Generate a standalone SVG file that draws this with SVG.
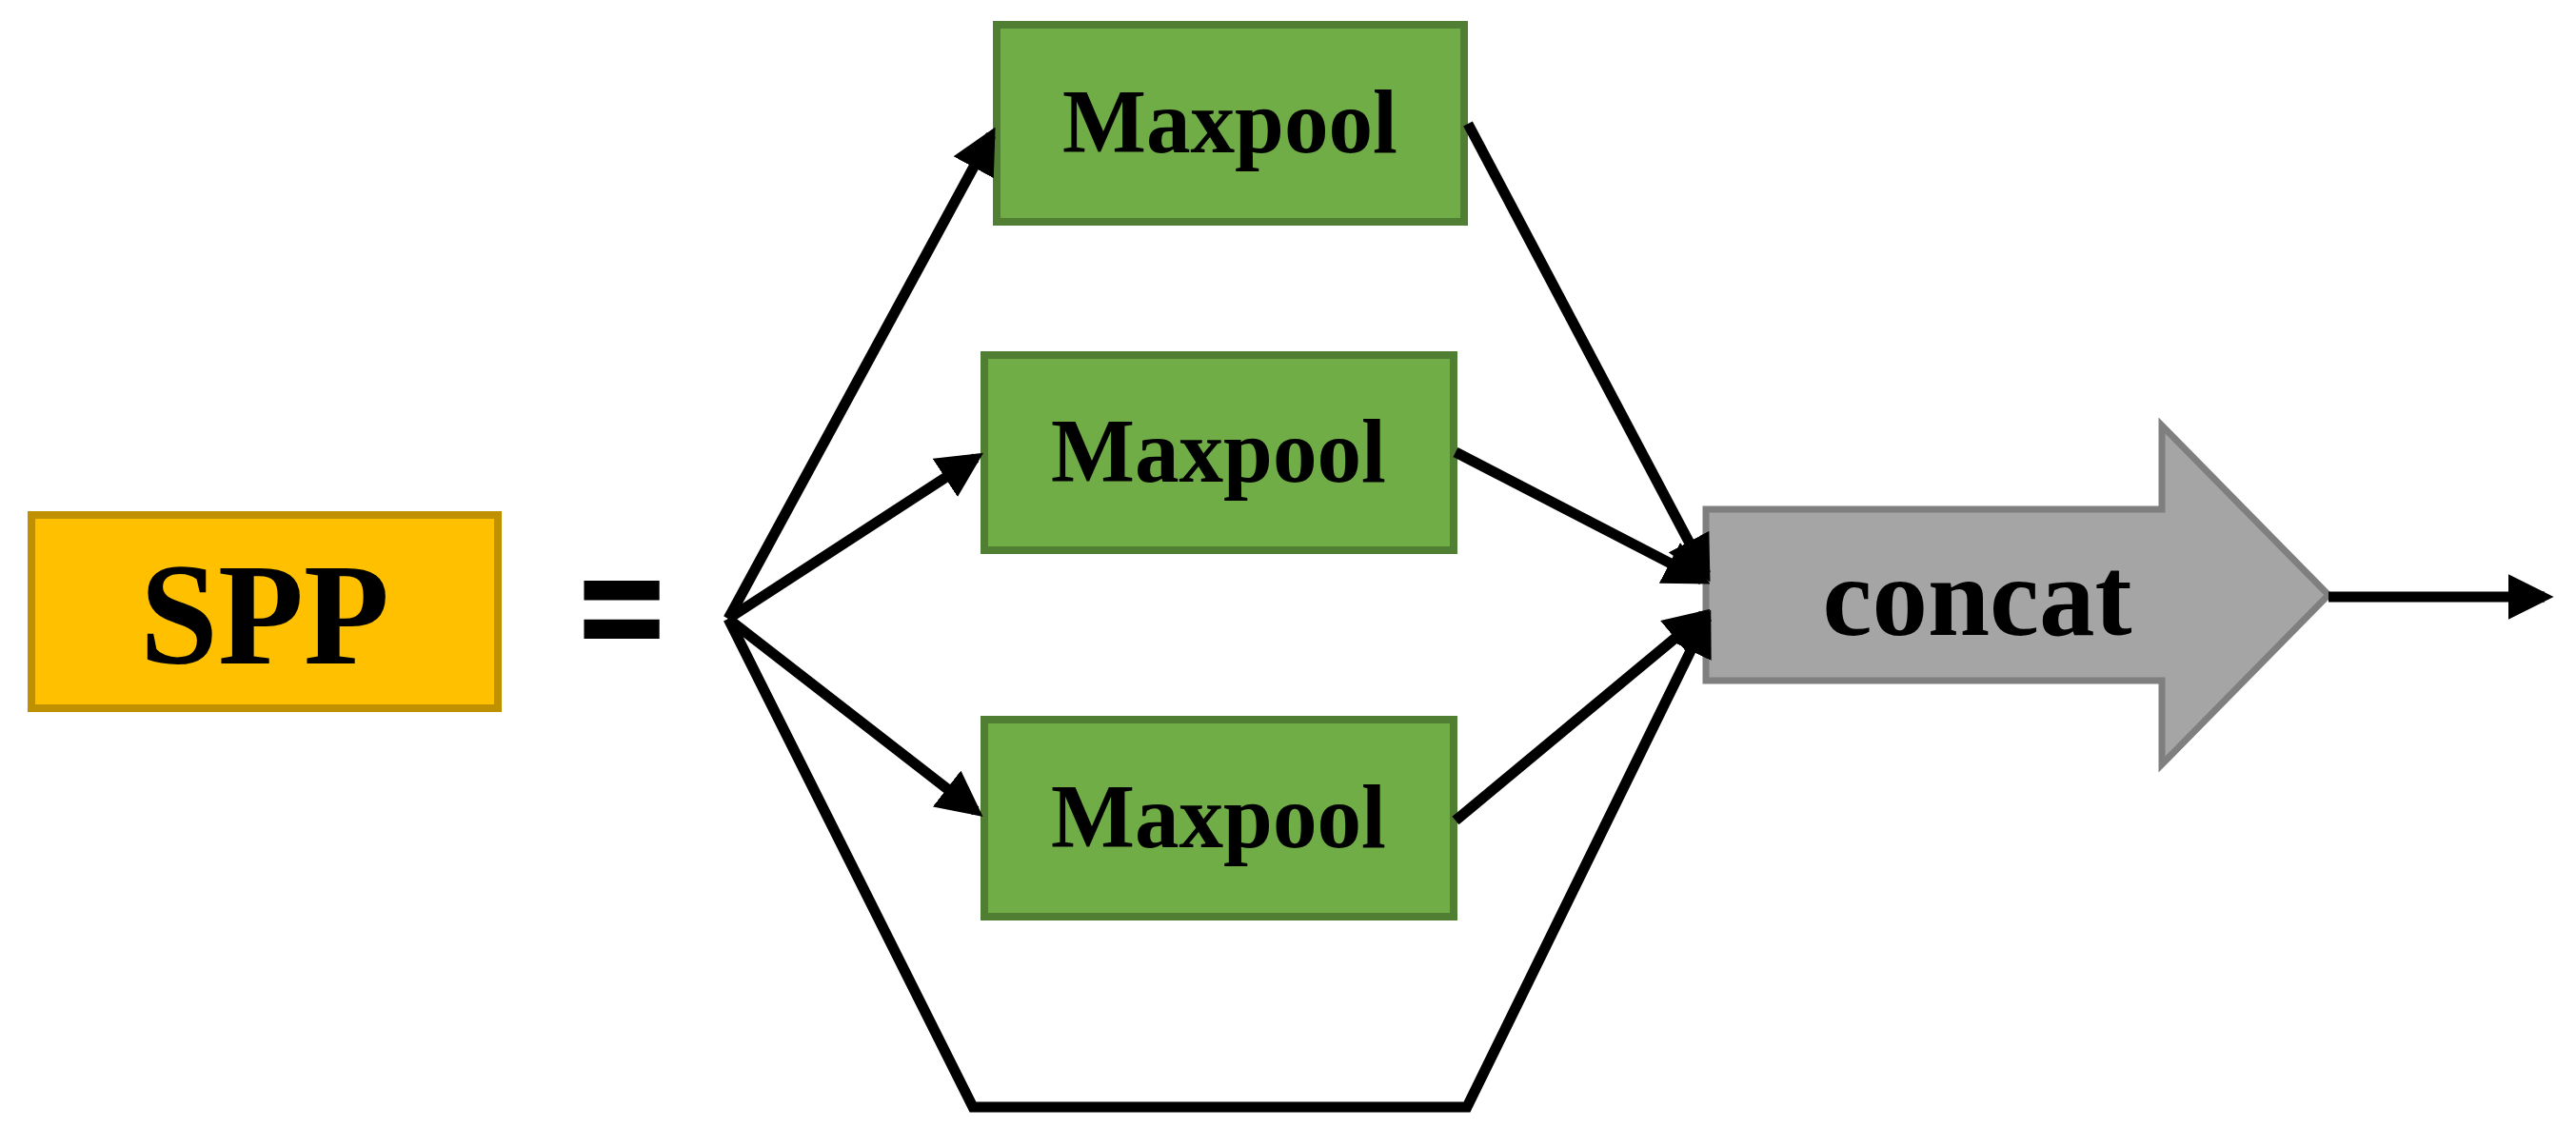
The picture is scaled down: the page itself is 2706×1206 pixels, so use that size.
<svg xmlns="http://www.w3.org/2000/svg" width="2706" height="1206" viewBox="0 0 2706 1206">
<style>
.lbl{font-family:"Liberation Serif","Times New Roman",serif;font-weight:bold;fill:#000;text-anchor:middle}
.pool{fill:#70AD47;stroke:#507E32;stroke-width:8}
.con{fill:none;stroke:#000;stroke-width:11;stroke-linejoin:miter}
</style>
<defs>
<marker id="ah" viewBox="0 0 10 10" markerUnits="userSpaceOnUse" markerWidth="48" markerHeight="48" refX="8" refY="5" orient="auto">
<path d="M0,0 L10,5 L0,10 z" fill="#000"/>
</marker>
</defs>
<rect width="2706" height="1206" fill="#fff"/>
<g id="spp">
<rect x="33" y="541" width="490" height="203" fill="#FFC000" stroke="#BF9000" stroke-width="8"/>
<text class="lbl" x="278" y="697" font-size="152" textLength="262" lengthAdjust="spacingAndGlyphs">SPP</text>
</g>
<g id="equals">
<text x="653" y="690" font-family="Liberation Sans, Arial, sans-serif" font-weight="bold" font-size="150" text-anchor="middle" fill="#000" stroke="#000" stroke-width="4">=</text>
</g>
<g id="maxpool1">
<rect class="pool" x="1047" y="26" width="491" height="207"/>
<text class="lbl" x="1292" y="160" font-size="96" textLength="352" lengthAdjust="spacingAndGlyphs">Maxpool</text>
</g>
<g id="maxpool2">
<rect class="pool" x="1034" y="373" width="493" height="205"/>
<text class="lbl" x="1280" y="506" font-size="96" textLength="352" lengthAdjust="spacingAndGlyphs">Maxpool</text>
</g>
<g id="maxpool3">
<rect class="pool" x="1034" y="756" width="493" height="207"/>
<text class="lbl" x="1280" y="890" font-size="96" textLength="352" lengthAdjust="spacingAndGlyphs">Maxpool</text>
</g>
<g id="concat">
<polygon points="1792,535 2271,535 2271,447 2446,625 2271,803 2271,715 1792,715" fill="#A5A5A5" stroke="#7F7F7F" stroke-width="7"/>
<text class="lbl" x="2077" y="667" font-size="118" textLength="325" lengthAdjust="spacingAndGlyphs">concat</text>
</g>
<g id="connectors">
<line class="con" x1="765" y1="650" x2="1041" y2="142" marker-end="url(#ah)"/>
<line class="con" x1="765" y1="650" x2="1025" y2="481" marker-end="url(#ah)"/>
<line class="con" x1="765" y1="650" x2="1025" y2="852" marker-end="url(#ah)"/>
<line class="con" x1="1542" y1="130" x2="1792" y2="603" marker-end="url(#ah)"/>
<line class="con" x1="1529" y1="475" x2="1788" y2="609" marker-end="url(#ah)"/>
<line class="con" x1="1529" y1="862" x2="1789" y2="646" marker-end="url(#ah)"/>
<polyline class="con" points="765,650 1022,1163 1541,1163 1793,649" marker-end="url(#ah)"/>
<line class="con" x1="2446" y1="627" x2="2673" y2="627" marker-end="url(#ah)"/>
</g>
</svg>
